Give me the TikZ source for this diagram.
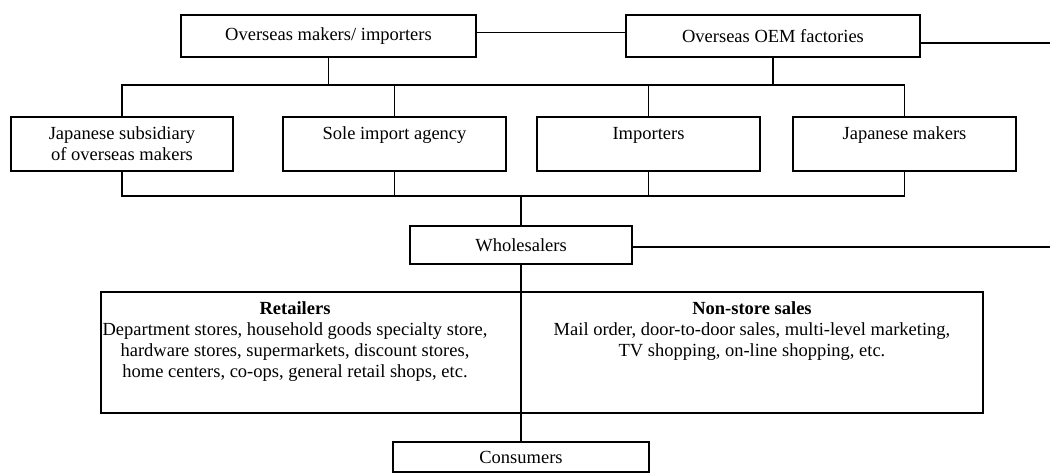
\documentclass[tikz,border=0pt]{standalone}
\usepackage{fontspec}
\setmainfont{Liberation Serif}
\begin{document}
\begin{tikzpicture}[x=1pt,y=-1pt,
  box/.style={draw, line width=1.4pt, inner sep=0pt, align=center, font=\fontsize{18.5}{21.2}\selectfont},
  txt/.style={inner sep=0pt, align=center, font=\fontsize{18.5}{21.2}\selectfont},
  link/.style={line width=1.4pt},
  divider/.style={line width=1.6pt},
]
\useasboundingbox (0,0) rectangle (1050,473);
% top row
\node[box, minimum width=295pt, minimum height=42pt] (omi) at (328.5,36) {Overseas makers/ importers};
\node[box, minimum width=294pt, minimum height=42pt] (oem) at (773,36) {Overseas OEM factories};
% middle row
\node[box, minimum width=222pt, minimum height=54pt] (js) at (122,144) {Japanese subsidiary\\of overseas makers};
\node[box, minimum width=223pt, minimum height=54pt] (sia) at (394.5,144) {Sole import agency\\\mbox{}};
\node[box, minimum width=223pt, minimum height=54pt] (imp) at (648.5,144) {Importers\\\mbox{}};
\node[box, minimum width=223pt, minimum height=54pt] (jm) at (904.5,144) {Japanese makers\\\mbox{}};
% wholesalers
\node[box, minimum width=222pt, minimum height=38pt] (wh) at (521,245) {Wholesalers};
% retail / non-store
\node[box, minimum width=420pt, minimum height=121pt] (ret) at (311,352.5) {};
\node[box, minimum width=462pt, minimum height=121pt] (ns) at (752,352.5) {};
\node[txt, anchor=north] (rett) at (295,301) {\textbf{Retailers}\\Department stores, household goods specialty store,\\hardware stores, supermarkets, discount stores,\\home centers, co-ops, general retail shops, etc.};
\node[txt, anchor=north] (nst) at (752,301) {\textbf{Non-store sales}\\Mail order, door-to-door sales, multi-level marketing,\\TV shopping, on-line shopping, etc.};
% consumers
\node[box, minimum width=256pt, minimum height=30pt] (con) at (521,457) {Consumers};
% coordinates
\coordinate (busT) at (0,85);
\coordinate (busB) at (0,196);
\coordinate (edgeA) at (1050,43);
\coordinate (edgeB) at (1050,247);
% connectors
\draw[link] ([yshift=3.5pt]omi.east) -- ([yshift=3.5pt]oem.west);
\draw[link] ([yshift=-7pt]oem.east) -- (edgeA);
\draw[link] (omi.south) -- (omi.south |- busT);
\draw[link] (oem.south) -- (oem.south |- busT);
\draw[link] (js.north) -- (js.north |- busT) -- (jm.north |- busT) -- (jm.north);
\draw[link] (sia.north) -- (sia.north |- busT);
\draw[link] (imp.north) -- (imp.north |- busT);
\draw[link] (js.south) -- (js.south |- busB) -- (jm.south |- busB) -- (jm.south);
\draw[link] (sia.south) -- (sia.south |- busB);
\draw[link] (imp.south) -- (imp.south |- busB);
\draw[link] (wh.north |- busB) -- (wh.north);
\draw[link] ([yshift=-2pt]wh.east) -- (edgeB);
\draw[divider] (wh.south) -- (con.north);
\end{tikzpicture}
\end{document}
